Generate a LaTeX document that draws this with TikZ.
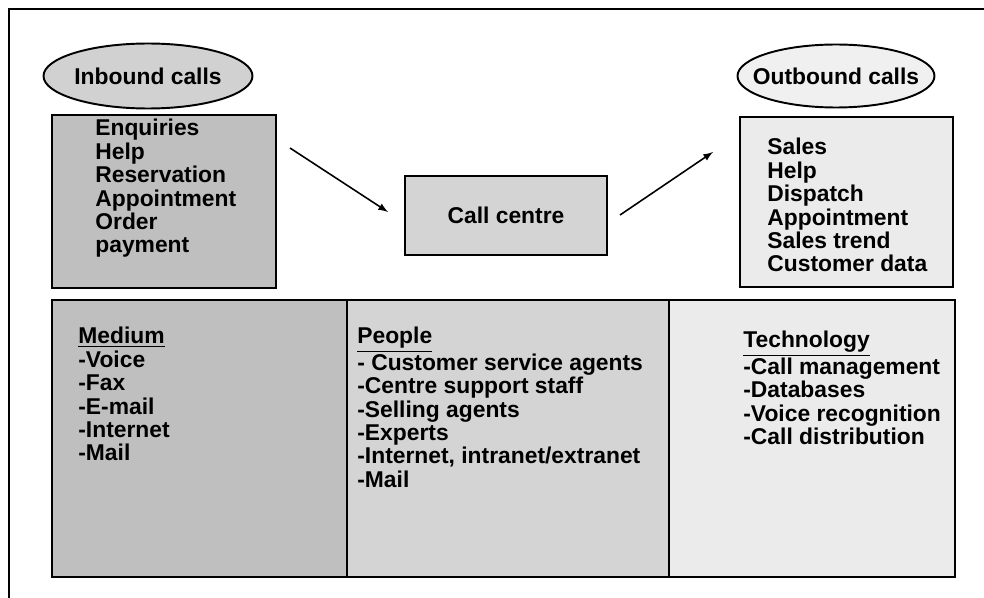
\documentclass[tikz,border=0pt]{standalone}
\usepackage{fontspec}
\setmainfont{Liberation Sans}
\usepackage{tikz}
\usetikzlibrary{shapes.geometric}

\tikzset{
  box/.style={draw, line width=1.1pt, inner sep=0pt},
  oval/.style={draw, ellipse, line width=1.1pt, inner xsep=-0.3cm, inner ysep=0pt},
  list/.style={anchor=north west, inner sep=0pt, align=left,
    font=\fontsize{13}{13.3}\selectfont\bfseries},
  flow/.style={line width=0.9pt, -latex}
}

\begin{document}
\begin{tikzpicture}[x=0.02cm, y=-0.02cm]

    \useasboundingbox (0,0) rectangle (984,598);

    % page frame, cut at the right and bottom
    \draw[line width=1.1pt] (9,598) -- (9,9) -- (984,9);

    % top row
    \node[oval, fill=black!18, minimum width=4.18cm, minimum height=1.3cm] (inoval) at (148,76)
        {\fontsize{13}{13.3}\selectfont\bfseries Inbound calls};
    \node[oval, fill=black!6, minimum width=3.94cm, minimum height=1.26cm] (outoval) at (836,76)
        {\fontsize{13}{13.3}\selectfont\bfseries Outbound calls};

    \node[box, fill=black!25, minimum width=4.48cm, minimum height=3.46cm] (inbox) at (164,201.5) {};
    \node[box, fill=black!17, minimum width=4.04cm, minimum height=1.58cm] (centre) at (506,215.5)
        {\fontsize{13}{13.3}\selectfont\bfseries Call centre};
    \node[box, fill=black!8, minimum width=4.26cm, minimum height=3.4cm] (outbox) at (846.5,202) {};

    \node[list] (inlist) at (95,119) {Enquiries\\Help\\Reservation\\Appointment\\Order\\payment};
    \node[list] (outlist) at (767,138) {Sales\\Help\\Dispatch\\Appointment\\Sales trend\\Customer data};

    \coordinate (in-from) at (290,148);
    \coordinate (in-to) at (388,212);
    \coordinate (out-from) at (620,215);
    \coordinate (out-to) at (713,152);
    \draw[flow] (in-from) -- (in-to);
    \draw[flow] (out-from) -- (out-to);

    % bottom row
    \node[box, fill=black!25, minimum width=5.9cm, minimum height=5.54cm] (medium) at (199.5,438.5) {};
    \node[box, fill=black!17, minimum width=6.44cm, minimum height=5.54cm] (people) at (508,438.5) {};
    \node[box, fill=black!8, minimum width=5.72cm, minimum height=5.54cm] (tech) at (812,438.5) {};

    \node[list] (mediumlist) at (78,327)
        {\underline{Medium}\\-Voice\\-Fax\\-E-mail\\-Internet\\-Mail};
    \node[list] (peoplelist) at (357,327)
        {\underline{People}\\- Customer service agents\\-Centre support staff\\-Selling agents\\-Experts\\-Internet, intranet/extranet\\-Mail};
    \node[list] (techlist) at (743,331)
        {\underline{Technology}\\-Call management\\-Databases\\-Voice recognition\\-Call distribution};

\end{tikzpicture}
\end{document}
